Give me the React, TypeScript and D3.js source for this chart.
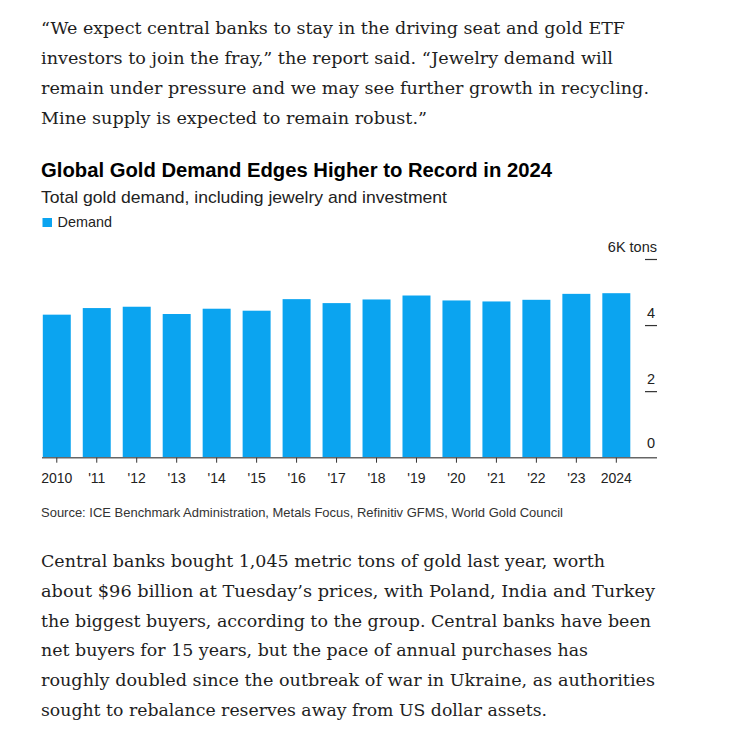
import React from 'react';
import * as d3 from 'd3';

const years = ['2010', "'11", "'12", "'13", "'14", "'15", "'16", "'17", "'18", "'19", "'20", "'21", "'22", "'23", '2024'];
// total demand, thousand tons
const demand = [4.33, 4.53, 4.57, 4.35, 4.51, 4.45, 4.8, 4.68, 4.79, 4.91, 4.76, 4.73, 4.78, 4.96, 4.98];
const yTicks = [0, 2, 4, 6];

const introLines = [
  '“We expect central banks to stay in the driving seat and gold ETF',
  'investors to join the fray,” the report said. “Jewelry demand will',
  'remain under pressure and we may see further growth in recycling.',
  'Mine supply is expected to remain robust.”',
];
const outroLines = [
  'Central banks bought 1,045 metric tons of gold last year, worth',
  'about $96 billion at Tuesday’s prices, with Poland, India and Turkey',
  'the biggest buyers, according to the group. Central banks have been',
  'net buyers for 15 years, but the pace of annual purchases has',
  'roughly doubled since the outbreak of war in Ukraine, as authorities',
  'sought to rebalance reserves away from US dollar assets.',
];
// rendered widths of each body line
const introWidths = [584, 572, 608, 386];
const outroWidths = [564, 614, 610, 547, 614, 506];

const W = 744;
const H = 742;
const BLUE = '#0ba4f0';
const SANS = '"Liberation Sans", Arial, sans-serif';
const SERIF = '"DejaVu Serif", Georgia, serif';

export default function App() {
  const x = d3.scaleBand<string>()
    .domain(years)
    .range([36.8, 636.3])
    .paddingInner(0.3)
    .paddingOuter(0.15);

  const y = d3.scaleLinear().domain([0, 6]).range([457.7, 259.5]);

  return (
    <svg width={W} height={H} style={{ position: 'absolute', left: 0, top: 0, background: '#fff' }}>
      {introLines.map((t, i) => (
        <text key={'a' + i} x={41} y={34 + i * 30} fontFamily={SERIF} fontSize={17.5} fill="#1e1e1e"
          textLength={introWidths[i]} lengthAdjust="spacingAndGlyphs">{t}</text>
      ))}

      <text x={41} y={177} fontFamily={SANS} fontSize={20} fontWeight="bold" fill="#000"
        textLength={511} lengthAdjust="spacingAndGlyphs">
        Global Gold Demand Edges Higher to Record in 2024
      </text>
      <text x={41} y={202.5} fontFamily={SANS} fontSize={17} fill="#222"
        textLength={406} lengthAdjust="spacingAndGlyphs">
        Total gold demand, including jewelry and investment
      </text>
      <rect x={42.5} y={218} width={9.5} height={9} fill={BLUE} />
      <text x={57.5} y={226.7} fontFamily={SANS} fontSize={14.4} fill="#222">Demand</text>

      {years.map((yr, i) => (
        <rect key={yr} x={x(yr)} y={y(demand[i])} width={x.bandwidth()} height={y(0) - y(demand[i])} fill={BLUE} />
      ))}

      <line x1={42} x2={657} y1={y(0)} y2={y(0)} stroke="#666" strokeWidth={1.5} />
      {years.map((yr) => {
        const cx = (x(yr) ?? 0) + x.bandwidth() / 2;
        return (
          <g key={'t' + yr}>
            <line x1={cx} x2={cx} y1={y(0)} y2={y(0) + 5} stroke="#333" strokeWidth={1} />
            <text x={cx} y={482.7} textAnchor="middle" fontFamily={SANS} fontSize={14} fill="#222">{yr}</text>
          </g>
        );
      })}

      {yTicks.map((v) => (
        <g key={'y' + v}>
          {v > 0 && <line x1={645} x2={657} y1={y(v)} y2={y(v)} stroke="#333" strokeWidth={1.2} />}
          <text
            x={v === 6 ? 657 : 651}
            y={y(v) - (v === 0 ? 10 : 8)}
            textAnchor={v === 6 ? 'end' : 'middle'}
            fontFamily={SANS}
            fontSize={14.5}
            fill="#222"
          >
            {v === 6 ? '6K tons' : v}
          </text>
        </g>
      ))}

      <text x={41} y={516.7} fontFamily={SANS} fontSize={13} fill="#333"
        textLength={522} lengthAdjust="spacingAndGlyphs">
        Source: ICE Benchmark Administration, Metals Focus, Refinitiv GFMS, World Gold Council
      </text>

      {outroLines.map((t, i) => (
        <text key={'b' + i} x={41} y={567 + i * 29.8} fontFamily={SERIF} fontSize={17.5} fill="#1e1e1e"
          textLength={outroWidths[i]} lengthAdjust="spacingAndGlyphs">{t}</text>
      ))}
    </svg>
  );
}
